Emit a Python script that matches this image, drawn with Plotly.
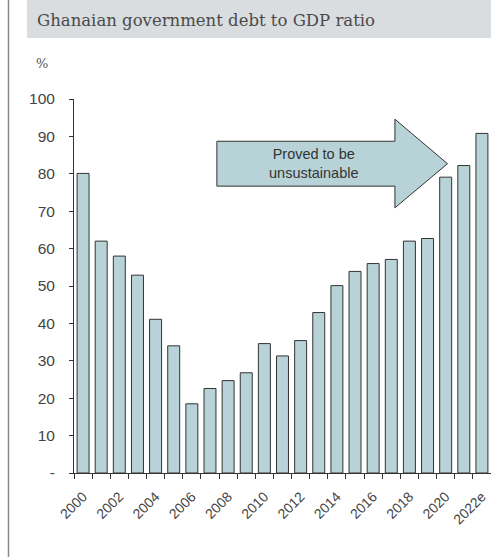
import plotly.graph_objects as go

# Ghana: general government debt, % of GDP (2022 is an estimate)
years = ["2000", "2001", "2002", "2003", "2004", "2005", "2006", "2007", "2008",
         "2009", "2010", "2011", "2012", "2013", "2014", "2015", "2016", "2017",
         "2018", "2019", "2020", "2021", "2022e"]
debt_pct = [80.1, 62.0, 58.0, 52.9, 41.1, 34.0, 18.5, 22.6, 24.7, 26.8, 34.6, 31.3,
            35.4, 42.9, 50.1, 53.9, 56.0, 57.1, 62.0, 62.7, 79.1, 82.2, 90.8]
y_ticks = [0, 10, 20, 30, 40, 50, 60, 70, 80, 90, 100]
y_tick_text = ["-", "10", "20", "30", "40", "50", "60", "70", "80", "90", "100"]

title_text = "Ghanaian government debt to GDP ratio"
unit_text = "%"
arrow_text = "Proved to be<br>unsustainable"

BAR_FILL = "#b7d3d8"
DARK = "#333333"
SANS = "Liberation Sans, Arial, sans-serif"
SERIF = "DejaVu Serif, serif"

x_idx = list(range(len(years)))

fig = go.Figure()
fig.add_trace(go.Bar(
    x=x_idx, y=debt_pct,
    marker=dict(color=BAR_FILL, line=dict(color=DARK, width=1)),
    width=0.66, hoverinfo="x+y",
))

W, H = 491, 558
L, R, T, B = 74, 0, 99, 85
pw, ph = W - L - R, H - T - B


def px_x(p):
    return (p - L) / pw


def px_y(p):
    return 1 - (p - T) / ph


shapes = [
    # grey title band
    dict(type="rect", xref="paper", yref="paper",
         x0=px_x(27), x1=px_x(491), y0=px_y(38), y1=px_y(0),
         fillcolor="#d9dde0", line=dict(width=0), layer="below"),
    # thin frame on the left
    dict(type="line", xref="paper", yref="paper",
         x0=px_x(8.5), x1=px_x(8.5), y0=px_y(0), y1=px_y(557),
         line=dict(color="#8a8a8a", width=1.5)),
    # block arrow
    dict(type="path", xref="x", yref="y",
         path="M 7.38 88.7 L 17.2 88.7 L 17.2 94.6 L 20.1 82.7 L 17.2 70.9 "
              "L 17.2 76.7 L 7.38 76.7 Z",
         fillcolor=BAR_FILL, line=dict(color=DARK, width=1)),
]

annotations = [
    dict(text=title_text, xref="paper", yref="paper", x=px_x(35), y=px_y(20),
         xanchor="left", yanchor="middle", showarrow=False,
         font=dict(family=SERIF, size=16.5, color="#4a4a4a")),
    dict(text=unit_text, xref="paper", yref="paper", x=px_x(34), y=px_y(63),
         xanchor="left", yanchor="middle", showarrow=False,
         font=dict(family=SERIF, size=13, color="#555555")),
    dict(text=arrow_text, xref="x", yref="y", x=12.75, y=82.7,
         xanchor="center", yanchor="middle", showarrow=False,
         font=dict(family=SANS, size=14.5, color=DARK)),
]

fig.update_layout(
    width=W, height=H,
    margin=dict(l=L, r=R, t=T, b=B, pad=0),
    paper_bgcolor="white", plot_bgcolor="white",
    showlegend=False,
    shapes=shapes, annotations=annotations,
    xaxis=dict(
        range=[-0.5, 22.5], tickmode="array",
        tickvals=x_idx[::2], ticktext=years[::2], tickangle=-45,
        ticks="", showgrid=False, zeroline=False, ticklabelstandoff=9,
        showline=True, linecolor=DARK, linewidth=1,
        tickfont=dict(family=SANS, size=14, color="#444444"),
        minor=dict(tickmode="linear", tick0=-0.5, dtick=1, ticks="outside",
                   ticklen=5, tickcolor=DARK, tickwidth=1, showgrid=False),
    ),
    yaxis=dict(
        range=[0, 100], tickmode="array", tickvals=y_ticks, ticktext=y_tick_text,
        ticks="outside", ticklen=4, tickcolor=DARK, tickwidth=1,
        showgrid=False, zeroline=False, ticklabelstandoff=11,
        showline=True, linecolor=DARK, linewidth=1,
        tickfont=dict(family=SANS, size=15.5, color="#444444"),
    ),
)

fig.write_html("out.html")
